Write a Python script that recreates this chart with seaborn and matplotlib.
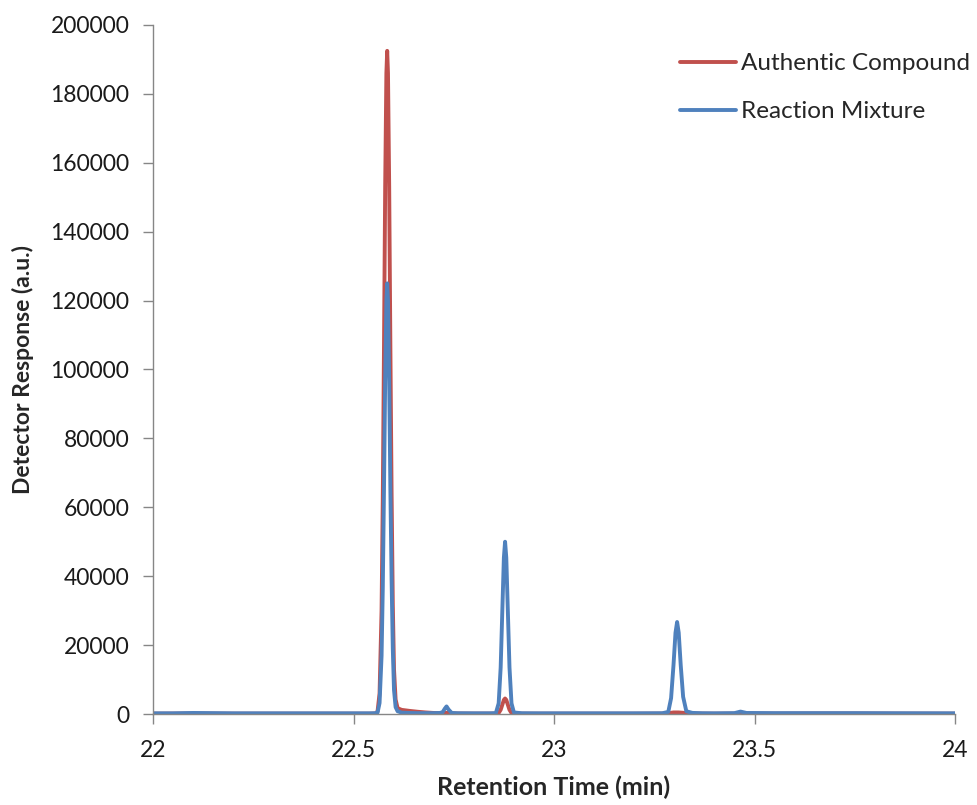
import matplotlib
matplotlib.use("Agg")
import matplotlib.pyplot as plt
import seaborn as sns
import pandas as pd

# Retention times (min) shared by both traces
times = [22.00, 22.05, 22.10, 22.15, 22.20, 22.30, 22.40, 22.50, 22.54, 22.555, 22.560, 22.565,
         22.570, 22.573, 22.576, 22.579, 22.582, 22.584, 22.586, 22.589, 22.592, 22.595,
         22.598, 22.601, 22.605, 22.61, 22.62, 22.64, 22.66, 22.68, 22.70, 22.715, 22.722,
         22.728, 22.732, 22.737, 22.745, 22.76, 22.80, 22.84, 22.855, 22.862, 22.867,
         22.871, 22.875, 22.878, 22.881, 22.885, 22.889, 22.894, 22.90, 22.92, 22.96,
         23.00, 23.10, 23.20, 23.27, 23.285, 23.292, 23.298, 23.303, 23.307, 23.311,
         23.316, 23.322, 23.330, 23.345, 23.37, 23.40, 23.45, 23.465, 23.48, 23.55,
         23.65, 23.75, 23.85, 24.00]

authentic = [100, 120, 150, 120, 100, 100, 100, 100, 100, 150, 800, 6000,
             30000, 62000, 106000, 153000, 186000, 192500, 186000, 153000, 106000, 64000,
             32000, 13000, 4200, 1700, 1200, 900, 650, 450, 300, 250, 250,
             300, 350, 300, 200, 150, 120, 120, 110, 280, 1220,
             2650, 4090, 4500, 4090, 2650, 1220, 280, 120, 110, 100,
             100, 100, 100, 120, 200, 350, 450, 450, 450, 450,
             400, 350, 250, 150, 120, 100, 120, 250, 150, 120,
             150, 150, 120, 100]

reaction = [200, 200, 300, 250, 200, 200, 200, 200, 200, 230, 400, 3200,
            16900, 36400, 65000, 96900, 120000, 125000, 120000, 96900, 65000, 39000,
            19000, 7000, 2000, 800, 400, 300, 250, 250, 250, 300, 500,
            1600, 2200, 1300, 300, 220, 200, 200, 260, 3100, 13500,
            29500, 45400, 50000, 45400, 29500, 13500, 3100, 450, 220, 200,
            200, 200, 200, 220, 610, 4600, 14200, 23600, 26700, 23600,
            14200, 5000, 800, 320, 220, 200, 250, 700, 300, 250,
            250, 250, 220, 200]

series_names = ["Authentic Compound", "Reaction Mixture"]
x_ticks = [22, 22.5, 23, 23.5, 24]
x_tick_labels = ["22", "22.5", "23", "23.5", "24"]
y_ticks = [0, 20000, 40000, 60000, 80000, 100000, 120000, 140000, 160000, 180000, 200000]
y_tick_labels = [str(v) for v in y_ticks]

df = pd.concat([
    pd.DataFrame({"time": times, "response": authentic, "series": series_names[0]}),
    pd.DataFrame({"time": times, "response": reaction, "series": series_names[1]}),
])

sns.set_theme(style="white")
plt.rcParams["font.family"] = ["Lato", "DejaVu Sans"]

fig = plt.figure(figsize=(9.77, 8.05), dpi=100)
ax = fig.add_axes([153 / 977, 1 - 714 / 805, (955 - 153) / 977, (714 - 25) / 805])

palette = {series_names[0]: "#C0504D", series_names[1]: "#4F81BD"}
sns.lineplot(data=df, x="time", y="response", hue="series", hue_order=series_names,
             palette=palette, estimator=None, sort=True, linewidth=2.8, ax=ax)

ax.set_xlim(22, 24)
ax.set_ylim(0, 200000)
ax.set_xticks(x_ticks)
ax.set_xticklabels(x_tick_labels, fontsize=16.5)
ax.set_yticks(y_ticks)
ax.set_yticklabels(y_tick_labels, fontsize=16.5)
ax.set_xlabel("Retention Time (min)", fontsize=18, fontweight="bold", labelpad=10)
ax.set_ylabel("Detector Response (a.u.)", fontsize=16.5, fontweight="bold", labelpad=12)

for side in ["top", "right"]:
    ax.spines[side].set_visible(False)
for side in ["left", "bottom"]:
    ax.spines[side].set_color("#868686")
    ax.spines[side].set_linewidth(1.0)
ax.tick_params(axis="y", which="major", length=7, width=1, color="#868686",
               direction="out", left=True, labelcolor="#1a1a1a", pad=10)
ax.tick_params(axis="x", which="major", length=7, width=1, color="#868686",
               direction="out", bottom=True, labelcolor="#1a1a1a", pad=12)
ax.grid(False)

leg = ax.legend(loc="upper left", bbox_to_anchor=((680 - 153) / 802, 1 - (53 - 25) / 689),
                frameon=False, fontsize=17.5, handlelength=2.3, handletextpad=0.2,
                labelspacing=1.12, borderaxespad=0, borderpad=0)
for line in leg.get_lines():
    line.set_linewidth(2.8)

fig.savefig("out.png", dpi=100)
